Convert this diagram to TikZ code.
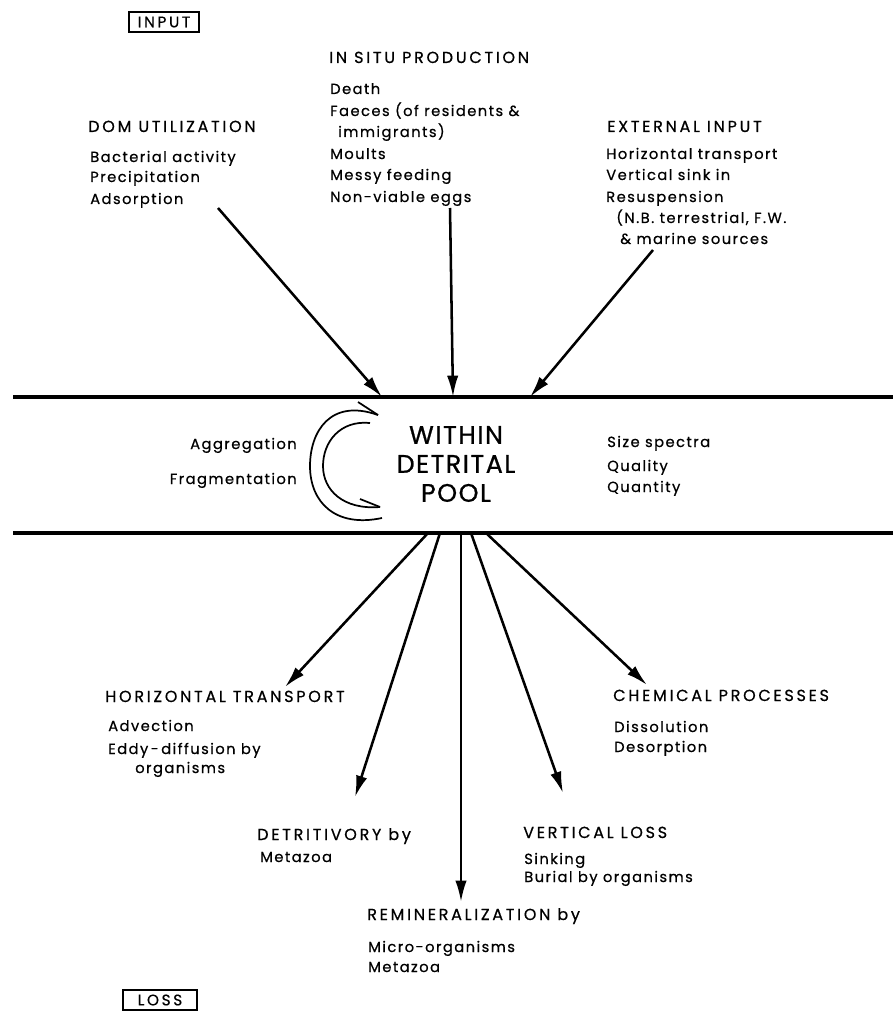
\documentclass[tikz,border=0pt]{standalone}
\usepackage{fontspec}
\setmainfont{Poppins}
\newfontfamily\hdfont[LetterSpace=17,FakeBold=0.6]{Poppins}
\newfontfamily\itfont[LetterSpace=10,FakeBold=0.6]{Poppins}
\newfontfamily\ctfont[LetterSpace=6,FakeBold=0.8]{Poppins}
\usetikzlibrary{arrows.meta}
\begin{document}
\begin{tikzpicture}[x=0.75pt,y=-0.75pt,
  hd/.style={anchor=base west,inner sep=0pt,font=\hdfont\fontsize{12}{14}\selectfont},
  itm/.style={anchor=base west,inner sep=0pt,font=\itfont\fontsize{11}{13}\selectfont},
  sm/.style={inner sep=0pt,font=\itfont\fontsize{11}{13}\selectfont},
  tag/.style={draw,line width=1.3pt,inner sep=0pt,minimum height=15.5pt,font=\hdfont\fontsize{11.5}{13}\selectfont},
  arr/.style={line width=1.9pt,-{Latex[length=16pt,width=8.5pt]}},
  band/.style={line width=3pt},
  loop/.style={line width=1.3pt}]
\useasboundingbox (0,0) rectangle (893,1012);

% boxes
\node[tag,minimum width=53pt] (input) at (164,22) {INPUT};
\node[tag,minimum width=55pt] (loss) at (160,1000) {LOSS};

% DOM utilization
\node[hd] (domh) at (88,132) {DOM UTILIZATION};
\node[itm] (dom1) at (90,162) {Bacterial activity};
\node[itm] (dom2) at (90,182) {Precipitation};
\node[itm] (dom3) at (90,204) {Adsorption};

% in situ production
\node[hd] (insh) at (329,63) {IN SITU PRODUCTION};
\node[itm] (ins1) at (330,94) {Death};
\node[itm] (ins2) at (330,116) {Faeces (of residents \&};
\node[itm] (ins3) at (338,137) {immigrants)};
\node[itm] (ins4) at (330,159) {Moults};
\node[itm] (ins5) at (330,180) {Messy feeding};
\node[itm] (ins6) at (330,202) {Non-viable eggs};

% external input
\node[hd] (exth) at (607,132) {EXTERNAL INPUT};
\node[itm] (ext1) at (606,159) {Horizontal transport};
\node[itm] (ext2) at (606,180) {Vertical sink in};
\node[itm] (ext3) at (606,202) {Resuspension};
\node[itm] (ext4) at (616,223) {(N.B. terrestrial, F.W.};
\node[itm] (ext5) at (620,244) {\& marine sources};

% band
\coordinate (tl) at (13,397); \coordinate (tr) at (893,397);
\coordinate (bl) at (13,533); \coordinate (br) at (893,533);
\draw[band] (tl) -- (tr);
\draw[band] (bl) -- (br);

% top arrows
\coordinate (a1s) at (218,208); \coordinate (a1e) at (382,397);
\coordinate (a2s) at (450,208); \coordinate (a2e) at (453,397);
\coordinate (a3s) at (653,250); \coordinate (a3e) at (530,397);
\draw[arr] (a1s) -- (a1e);
\draw[arr] (a2s) -- (a2e);
\draw[arr] (a3s) -- (a3e);

% centre
\node[align=center,inner sep=0pt,font=\ctfont\fontsize{19}{21.75}\selectfont] (pool) at (456,464) {WITHIN\\DETRITAL\\POOL};
\node[sm,anchor=base east] (agg) at (297,449) {Aggregation};
\node[sm,anchor=base east] (frag) at (297,484) {Fragmentation};
\node[sm,anchor=base west] (size1) at (607,447) {Size spectra};
\node[sm,anchor=base west] (size2) at (607,471) {Quality};
\node[sm,anchor=base west] (size3) at (607,492) {Quantity};

% circular arrows
\coordinate (o1) at (378,415); \coordinate (o2) at (382,518);
\coordinate (i1) at (370,423); \coordinate (i2) at (380,507);
\coordinate (ob) at (358,402); \coordinate (ib) at (360,499);
\draw[loop] (o1) .. controls (330,398) and (310,432) .. (310,466) .. controls (310,502) and (335,528) .. (o2);
\draw[loop] (i1) .. controls (340,420) and (323,442) .. (323,466) .. controls (323,490) and (343,510) .. (i2);
\draw[loop] (ob) -- (o1);
\draw[loop] (ib) -- (i2);

% bottom arrows
\coordinate (b1s) at (428,533); \coordinate (b1e) at (285,687);
\coordinate (b2s) at (440,533); \coordinate (b2e) at (355,797);
\coordinate (b3s) at (461,533); \coordinate (b3e) at (461,902);
\coordinate (b4s) at (471,533); \coordinate (b4e) at (563,793);
\coordinate (b5s) at (486,533); \coordinate (b5e) at (647,685);
\draw[arr] (b1s) -- (b1e);
\draw[arr] (b2s) -- (b2e);
\draw[arr] (b3s) -- (b3e);
\draw[arr] (b4s) -- (b4e);
\draw[arr] (b5s) -- (b5e);

% horizontal transport
\node[hd] (hth) at (105,702) {HORIZONTAL TRANSPORT};
\node[itm] (ht1) at (108,731) {Advection};
\node[itm] (ht2) at (108,754) {Eddy\,-\,diffusion by};
\node[itm] (ht3) at (135,773) {organisms};

% chemical
\node[hd] (chh) at (613,701) {CHEMICAL PROCESSES};
\node[itm] (ch1) at (614,732) {Dissolution};
\node[itm] (ch2) at (614,752) {Desorption};

% detritivory
\node[hd] (deh) at (257,840) {DETRITIVORY by};
\node[itm] (de1) at (260,862) {Metazoa};

% vertical loss
\node[hd] (vlh) at (523,838) {VERTICAL LOSS};
\node[itm] (vl1) at (524,864) {Sinking};
\node[itm] (vl2) at (524,882) {Burial by organisms};

% remineralization
\node[hd] (reh) at (367,920) {REMINERALIZATION by};
\node[itm] (re1) at (368,952) {Micro-organisms};
\node[itm] (re2) at (368,972) {Metazoa};
\end{tikzpicture}
\end{document}
